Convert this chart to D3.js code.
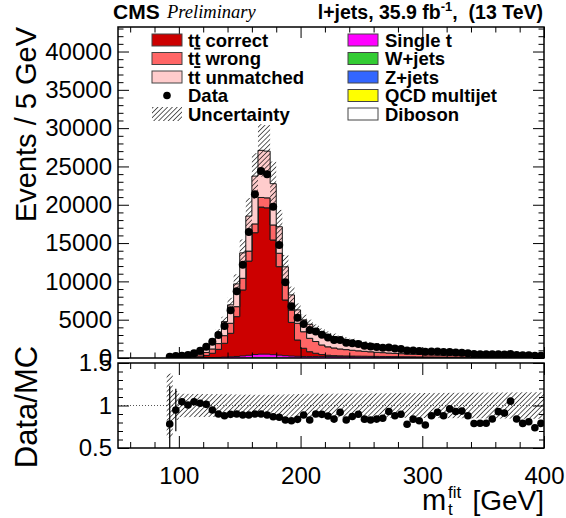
<!DOCTYPE html>
<html>
<head>
<meta charset="utf-8">
<script src="https://cdnjs.cloudflare.com/ajax/libs/d3/7.8.5/d3.min.js"></script>
<style>
  body { margin: 0; background: #fff; }
  text { font-family: "Liberation Sans", Arial, sans-serif; }
</style>
</head>
<body>
<div id="chart"></div>
<script>
// bins of 5 GeV, first filled bin starts at 90 GeV
const binLow = d3.range(90, 400, 5);

const data = [172,251,303,392,611,959,1480,2131,2997,4180,
  6218,8703,12183,16446,21366,24390,23976,19747,14749,9877,
  6749,5256,4422,3652,3465,3046,2672,2352,2355,1975,
  1914,1839,1613,1494,1420,1352,1386,1232,1184,967,
  983,902,801,862,851,770,792,725,692,616,
  525,498,474,479,502,469,515,391,352,344,
  300,304];

const ttCorrect = [5,10,15,30,60,130,280,560,1050,1800,
  3060,5200,8610,12300,15900,19200,19100,14970,11550,7270,
  4400,2130,1070,630,420,250,170,130,110,100,
  90,85,80,75,70,65,60,55,50,48,
  45,42,40,38,36,34,32,30,28,27,
  26,25,24,23,22,21,20,19,18,17,
  16,15];

const ttWrong = [55,70,80,110,170,270,400,560,750,1000,
  1310,1300,1520,1300,1150,1250,1300,1960,1750,2180,
  1600,2180,2160,1750,1530,1250,1100,1000,900,830,
  760,700,640,590,540,500,460,425,395,365,
  340,315,295,275,258,242,226,212,200,188,
  177,167,158,149,141,133,126,119,113,107,
  101,96];

const ttUnmatched = [152,175,183,235,335,505,740,1070,1450,1830,
  2410,2970,3320,4570,6240,6150,6100,5390,3460,2150,
  1980,1750,1550,1830,1700,1700,1590,1490,1380,1285,
  1190,1110,1050,990,940,890,840,795,755,712,
  675,638,605,571,539,511,483,458,436,412,
  392,371,354,337,319,305,290,275,264,253,
  242,230];

const singleT = [5,6,7,9,12,18,24,36,48,72,
  96,120,162,210,270,300,300,258,222,180,
  150,132,120,114,120,120,114,108,102,99,
  96,93,90,87,84,81,78,75,72,69,
  66,63,60,58,55,53,50,48,46,44,
  42,40,38,37,35,34,32,31,30,29,
  28,26];

const wjets = [2,3,3,4,5,8,10,15,20,30,
  40,50,68,88,113,125,125,108,93,75,
  63,55,50,48,50,50,48,45,43,41,
  40,39,38,36,35,34,33,31,30,29,
  28,26,25,24,23,22,21,20,19,18,
  18,17,16,15,15,14,14,13,13,12,
  12,11];

const zjets = [0,0,1,1,1,2,2,3,4,6,
  8,10,14,18,23,25,25,22,19,15,
  13,11,10,10,10,10,10,9,9,8,
  8,8,8,7,7,7,7,6,6,6,
  6,5,5,5,5,4,4,4,4,4,
  4,3,3,3,3,3,3,3,3,2,
  2,2];

const qcd = [1,1,1,1,2,2,3,5,6,10,
  13,16,22,28,36,40,40,34,30,24,
  20,18,16,15,16,16,15,14,14,13,
  13,12,12,12,11,11,10,10,10,9,
  9,8,8,8,7,7,7,6,6,6,
  6,5,5,5,5,4,4,4,4,4,
  4,4];

const diboson = [0,0,0,0,0,0,1,1,2,2,
  3,4,5,7,9,10,10,9,7,6,
  5,4,4,4,4,4,4,4,3,3,
  3,3,3,3,3,3,3,3,2,2,
  2,2,2,2,2,2,2,2,2,1,
  1,1,1,1,1,1,1,1,1,1,
  1,1];

// relative MC uncertainty per bin
const uncRel = [0.375,0.17,0.138,0.137,0.136,0.136,0.135,0.135,0.134,0.133,
  0.132,0.130,0.128,0.127,0.126,0.126,0.126,0.127,0.128,0.130,
  0.132,0.134,0.136,0.137,0.138,0.138,0.139,0.139,0.140,0.140,
  0.141,0.141,0.142,0.142,0.143,0.143,0.144,0.144,0.145,0.145,
  0.146,0.146,0.147,0.147,0.148,0.148,0.149,0.149,0.150,0.150,
  0.151,0.151,0.152,0.152,0.153,0.153,0.154,0.154,0.155,0.155,
  0.156,0.156];

// error bars on the ratio for the first two bins
const ratioErrLow = [0.45, 0.25];

const mainTicks = [0,5000,10000,15000,20000,25000,30000,35000,40000];
const ratioTicks = [0.5, 1, 1.5];
const xTicks = [100, 200, 300, 400];

const keys = ["diboson","qcd","zjets","wjets","singleT","ttCorrect","ttWrong","ttUnmatched"];
const series = { diboson, qcd, zjets, wjets, singleT, ttCorrect, ttWrong, ttUnmatched };
const colors = {
  ttCorrect: "#cc0000", ttWrong: "#ff6666", ttUnmatched: "#ffcccc",
  singleT: "#ff00ff", wjets: "#33cc33", zjets: "#3366ff", qcd: "#ffff00", diboson: "#ffffff"
};

const canvas = { w: 566, h: 518 };
const frame = { l: 118, r: 544, t: 27, b: 358 };
const rframe = { t: 363, b: 448 };

const x = d3.scaleLinear().domain([50, 400]).range([frame.l, frame.r]);
const y = d3.scaleLinear().domain([0, 43200]).range([frame.b, frame.t]);
const yr = d3.scaleLinear().domain([0.5, 1.5]).range([rframe.b, rframe.t]);

const svg = d3.select("#chart").append("svg")
  .attr("width", canvas.w).attr("height", canvas.h)
  .attr("viewBox", `0 0 ${canvas.w} ${canvas.h}`);

const defs = svg.append("defs");
defs.append("pattern").attr("id", "hatch")
  .attr("patternUnits", "userSpaceOnUse")
  .attr("width", 3.4).attr("height", 3.4)
  .attr("patternTransform", "rotate(45)")
  .append("line").attr("x1", 0).attr("y1", 0).attr("x2", 0).attr("y2", 3.4)
  .attr("stroke", "#000").attr("stroke-width", 1.25);
defs.append("clipPath").attr("id", "clipMain").append("rect")
  .attr("x", frame.l).attr("y", frame.t).attr("width", frame.r - frame.l).attr("height", frame.b - frame.t);
defs.append("clipPath").attr("id", "clipRatio").append("rect")
  .attr("x", frame.l).attr("y", rframe.t).attr("width", frame.r - frame.l).attr("height", rframe.b - rframe.t);

const rows = binLow.map((b, i) => {
  const r = { b };
  keys.forEach(k => r[k] = series[k][i]);
  return r;
});
const stacked = d3.stack().keys(keys)(rows);
const total = stacked[stacked.length - 1].map(d => d[1]);

const area = d3.area()
  .x(d => x(d.x)).y0(d => y(d.y0)).y1(d => y(d.y1))
  .curve(d3.curveStepAfter);

const gMain = svg.append("g").attr("clip-path", "url(#clipMain)");

stacked.forEach(layer => {
  const pts = layer.map((d, i) => ({ x: binLow[i], y0: d[0], y1: d[1] }));
  const last = pts[pts.length - 1];
  pts.push({ x: last.x + 5, y0: last.y0, y1: last.y1 });
  const isTT = layer.key.startsWith("tt");
  gMain.append("path")
    .attr("d", area(pts))
    .attr("fill", colors[layer.key])
    .attr("stroke", isTT ? "#1a1a1a" : (layer.key === "diboson" ? "none" : colors[layer.key]))
    .attr("stroke-width", isTT ? 1 : 0.8);
});

// uncertainty band
gMain.selectAll("rect.unc").data(binLow).enter().append("rect")
  .attr("class", "unc")
  .attr("x", d => x(d)).attr("width", d => x(d + 5) - x(d))
  .attr("y", (d, i) => y(total[i] * (1 + uncRel[i])))
  .attr("height", (d, i) => y(total[i] * (1 - uncRel[i])) - y(total[i] * (1 + uncRel[i])))
  .attr("fill", "url(#hatch)");

// data points
gMain.selectAll("circle").data(binLow).enter().append("circle")
  .attr("cx", d => x(d + 2.5)).attr("cy", (d, i) => y(data[i]))
  .attr("r", 4).attr("fill", "#000");

// ratio panel
const gRatio = svg.append("g").attr("clip-path", "url(#clipRatio)");
gRatio.append("line")
  .attr("x1", frame.l).attr("x2", frame.r).attr("y1", yr(1)).attr("y2", yr(1))
  .attr("stroke", "#555").attr("stroke-width", 1).attr("stroke-dasharray", "1,2");
gRatio.selectAll("rect.unc").data(binLow).enter().append("rect")
  .attr("class", "unc")
  .attr("x", d => x(d)).attr("width", d => x(d + 5) - x(d))
  .attr("y", (d, i) => yr(1 + uncRel[i]))
  .attr("height", (d, i) => yr(1 - uncRel[i]) - yr(1 + uncRel[i]))
  .attr("fill", "url(#hatch)");
ratioErrLow.forEach((e, i) => {
  const r = data[i] / total[i];
  gRatio.append("line")
    .attr("x1", x(binLow[i] + 2.5)).attr("x2", x(binLow[i] + 2.5))
    .attr("y1", yr(r - e)).attr("y2", yr(r + e))
    .attr("stroke", "#000").attr("stroke-width", 1.2);
});
gRatio.selectAll("circle").data(binLow).enter().append("circle")
  .attr("cx", d => x(d + 2.5)).attr("cy", (d, i) => yr(data[i] / total[i]))
  .attr("r", 3.8).attr("fill", "#000");

// frames
[[frame.t, frame.b], [rframe.t, rframe.b]].forEach(([t, b]) => {
  svg.append("rect").attr("x", frame.l).attr("y", t)
    .attr("width", frame.r - frame.l).attr("height", b - t)
    .attr("fill", "none").attr("stroke", "#000").attr("stroke-width", 1.5);
});

// axes
function styleAxis(g, size) {
  g.select(".domain").remove();
  g.attr("font-family", "Liberation Sans, Arial, sans-serif").attr("font-size", size).attr("color", "#000");
  g.selectAll(".tick line").attr("stroke-width", 1);
}
const xMinor = d3.range(60, 401, 20).filter(v => v % 100 !== 0);
const yMinor = d3.range(0, 43001, 1000).filter(v => v % 5000 !== 0);
const rMinor = [0.6, 0.7, 0.8, 0.9, 1.1, 1.2, 1.3, 1.4];

// main panel
svg.append("g").attr("transform", `translate(0,${frame.b})`)
  .call(d3.axisBottom(x).tickValues(xTicks).tickSize(-11).tickFormat("")).call(g => styleAxis(g, 24));
svg.append("g").attr("transform", `translate(0,${frame.b})`)
  .call(d3.axisBottom(x).tickValues(xMinor).tickSize(-5.5).tickFormat("")).call(g => styleAxis(g, 24));
svg.append("g").attr("transform", `translate(0,${frame.t})`)
  .call(d3.axisTop(x).tickValues(xTicks).tickSize(-11).tickFormat("")).call(g => styleAxis(g, 24));
svg.append("g").attr("transform", `translate(0,${frame.t})`)
  .call(d3.axisTop(x).tickValues(xMinor).tickSize(-5.5).tickFormat("")).call(g => styleAxis(g, 24));
svg.append("g").attr("transform", `translate(${frame.l},0)`)
  .call(d3.axisLeft(y).tickValues(mainTicks).tickSize(-11).tickPadding(6).tickFormat(d3.format("d")))
  .call(g => styleAxis(g, 24));
svg.append("g").attr("transform", `translate(${frame.l},0)`)
  .call(d3.axisLeft(y).tickValues(yMinor).tickSize(-5.5).tickFormat("")).call(g => styleAxis(g, 24));
svg.append("g").attr("transform", `translate(${frame.r},0)`)
  .call(d3.axisRight(y).tickValues(mainTicks).tickSize(-11).tickFormat("")).call(g => styleAxis(g, 24));
svg.append("g").attr("transform", `translate(${frame.r},0)`)
  .call(d3.axisRight(y).tickValues(yMinor).tickSize(-5.5).tickFormat("")).call(g => styleAxis(g, 24));

// ratio panel
svg.append("g").attr("transform", `translate(0,${rframe.b})`)
  .call(d3.axisBottom(x).tickValues(xTicks).tickSize(-12).tickPadding(19).tickFormat(d3.format("d")))
  .call(g => styleAxis(g, 24));
svg.append("g").attr("transform", `translate(0,${rframe.b})`)
  .call(d3.axisBottom(x).tickValues(xMinor).tickSize(-6).tickFormat("")).call(g => styleAxis(g, 24));
svg.append("g").attr("transform", `translate(0,${rframe.t})`)
  .call(d3.axisTop(x).tickValues(xTicks).tickSize(-12).tickFormat("")).call(g => styleAxis(g, 24));
svg.append("g").attr("transform", `translate(0,${rframe.t})`)
  .call(d3.axisTop(x).tickValues(xMinor).tickSize(-6).tickFormat("")).call(g => styleAxis(g, 24));
svg.append("g").attr("transform", `translate(${frame.l},0)`)
  .call(d3.axisLeft(yr).tickValues(ratioTicks).tickSize(-11).tickPadding(6).tickFormat(d3.format("")))
  .call(g => styleAxis(g, 24));
svg.append("g").attr("transform", `translate(${frame.l},0)`)
  .call(d3.axisLeft(yr).tickValues(rMinor).tickSize(-5).tickFormat("")).call(g => styleAxis(g, 24));
svg.append("g").attr("transform", `translate(${frame.r},0)`)
  .call(d3.axisRight(yr).tickValues(ratioTicks).tickSize(-11).tickFormat("")).call(g => styleAxis(g, 24));
svg.append("g").attr("transform", `translate(${frame.r},0)`)
  .call(d3.axisRight(yr).tickValues(rMinor).tickSize(-5).tickFormat("")).call(g => styleAxis(g, 24));

// axis titles
svg.append("text").attr("transform", `translate(36,${frame.t}) rotate(-90)`)
  .attr("text-anchor", "end").attr("font-size", 29).text("Events / 5 GeV");
svg.append("text").attr("transform", `translate(37,407) rotate(-90)`)
  .attr("text-anchor", "middle").attr("font-size", 31).text("Data/MC");
svg.append("text").attr("x", 422).attr("y", 510).attr("font-size", 29).text("m");
svg.append("text").attr("x", 448).attr("y", 498).attr("font-size", 17).text("fit");
svg.append("text").attr("x", 448).attr("y", 515).attr("font-size", 17).text("t");
svg.append("text").attr("x", frame.r).attr("y", 510).attr("text-anchor", "end")
  .attr("font-size", 28).text("[GeV]");

// header
svg.append("text").attr("x", 113).attr("y", 19).attr("font-size", 21).attr("font-weight", "bold").text("CMS");
svg.append("text").attr("x", 167).attr("y", 18).attr("font-size", 18.5)
  .style("font-family", "'Liberation Serif', 'Times New Roman', serif").attr("font-style", "italic").text("Preliminary");
const lumi = svg.append("text").attr("x", 543).attr("y", 19).attr("text-anchor", "end")
  .attr("font-size", 19.5).attr("font-weight", "bold").style("white-space", "pre");
lumi.append("tspan").text("l+jets, 35.9 fb");
lumi.append("tspan").attr("font-size", 13).attr("dy", -8).text("-1");
lumi.append("tspan").attr("dy", 8).text(",  (13 TeV)");

// legend
const legRowY = [40, 58.5, 77, 95.5, 114];
const legLeft = [
  { label: ["t", "t", " correct"], fill: colors.ttCorrect, bar: true },
  { label: ["t", "t", " wrong"], fill: colors.ttWrong, bar: true },
  { label: ["tt unmatched"], fill: colors.ttUnmatched },
  { label: ["Data"], type: "dot" },
  { label: ["Uncertainty"], type: "hatch" }
];
const legRight = [
  { label: ["Single t"], fill: colors.singleT },
  { label: ["W+jets"], fill: colors.wjets },
  { label: ["Z+jets"], fill: colors.zjets },
  { label: ["QCD multijet"], fill: colors.qcd },
  { label: ["Diboson"], fill: colors.diboson }
];
function drawLegend(items, bx, tx) {
  items.forEach((it, i) => {
    const cy = legRowY[i];
    if (it.type === "dot") {
      svg.append("circle").attr("cx", bx + 15).attr("cy", cy).attr("r", 3.8).attr("fill", "#000");
    } else if (it.type === "hatch") {
      svg.append("rect").attr("x", bx).attr("y", cy - 7).attr("width", 30).attr("height", 14)
        .attr("fill", "url(#hatch)");
    } else {
      svg.append("rect").attr("x", bx).attr("y", cy - 6).attr("width", 30).attr("height", 12)
        .attr("fill", it.fill).attr("stroke", "#444").attr("stroke-width", 1);
    }
    const t = svg.append("text").attr("x", tx).attr("y", cy).attr("dy", "0.36em")
      .attr("font-size", 18.5).attr("font-weight", "bold").style("white-space", "pre");
    it.label.forEach((s, j) => {
      const sp = t.append("tspan").text(s);
      if (it.bar && j === 1) sp.style("text-decoration", "underline");
    });
  });
}
drawLegend(legLeft, 152, 188);
drawLegend(legRight, 348, 385);
</script>
</body>
</html>
